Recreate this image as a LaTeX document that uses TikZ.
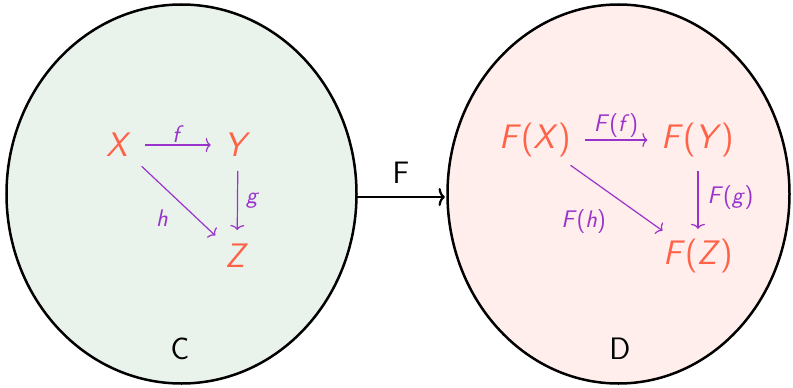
\documentclass[tikz,border=0pt]{standalone}
\usetikzlibrary{arrows.meta,positioning}
\definecolor{leftfill}{HTML}{EAF2EC}
\definecolor{rightfill}{HTML}{FFEEEC}
\definecolor{objcol}{HTML}{FF6347}
\definecolor{morcol}{HTML}{9933CC}
\newcommand\cv[1]{\textit{#1}}
\tikzset{
  cat/.style={draw=black, line width=2.5pt},
  obj/.style={text=objcol, font=\sffamily\fontsize{34}{40}\selectfont, inner sep=0pt},
  mor/.style={-{To[length=5pt,width=14pt]}, draw=morcol, line width=1.2pt, shorten >=14pt, shorten <=14pt},
  morlab/.style={text=morcol, font=\sffamily\fontsize{24}{28}\selectfont, inner sep=2pt},
  funct/.style={-{To[length=6.5pt,width=18pt]}, draw=black, line width=2.2pt},
  biglab/.style={text=black, font=\sffamily\fontsize{31}{36}\selectfont, inner sep=0pt}
}
\begin{document}
\begin{tikzpicture}[x=1pt,y=-1pt]
\useasboundingbox (0,0) rectangle (793,388);
\draw[cat, fill=leftfill] (181.5,194) ellipse [x radius=175, y radius=189.5];
\draw[cat, fill=rightfill] (618.5,194) ellipse [x radius=171, y radius=189.5];
% left category
\node[obj] (X) at (119,145) {\cv{X}};
\node[obj] (Y) at (238,145) {\cv{Y}};
\node[obj] (Z) at (237,256) {\cv{Z}};
\draw[mor] (X) -- node[morlab, above] {\cv{f}} (Y);
\draw[mor] (Y) -- node[morlab, right=6pt] {\cv{g}} (Z);
\draw[mor] (X) -- node[morlab, below left=6pt and 8pt] {\cv{h}} (Z);
\node[biglab] (C) at (180,349) {C};
% right category
\node[obj] (FX) at (535,140) {\cv{F}(\cv{X})};
\node[obj] (FY) at (698,140) {\cv{F}(\cv{Y})};
\node[obj] (FZ) at (698,256) {\cv{F}(\cv{Z})};
\draw[mor] (FX) -- node[morlab, above] {\cv{F}(\cv{f})} (FY);
\draw[mor, shorten >=10pt] (FY) -- node[morlab, right=7pt] {\cv{F}(\cv{g})} (FZ);
\draw[mor] (FX) -- node[morlab, below left=9pt and 8pt] {\cv{F}(\cv{h})} (FZ);
\node[biglab] (D) at (620,349) {D};
% functor
\coordinate (fs) at (357,197);
\coordinate (fe) at (445,197);
\draw[funct] (fs) -- node[biglab, above=12pt] (Flab) {F} (fe);
\end{tikzpicture}
\end{document}
